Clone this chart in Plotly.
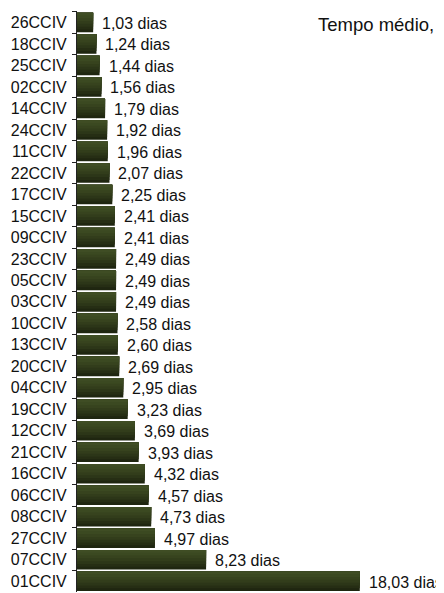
import plotly.graph_objects as go

categories = ["26CCIV", "18CCIV", "25CCIV", "02CCIV", "14CCIV", "24CCIV", "11CCIV",
              "22CCIV", "17CCIV", "15CCIV", "09CCIV", "23CCIV", "05CCIV", "03CCIV",
              "10CCIV", "13CCIV", "20CCIV", "04CCIV", "19CCIV", "12CCIV", "21CCIV",
              "16CCIV", "06CCIV", "08CCIV", "27CCIV", "07CCIV", "01CCIV"]
values = [1.03, 1.24, 1.44, 1.56, 1.79, 1.92, 1.96, 2.07, 2.25, 2.41, 2.41, 2.49,
          2.49, 2.49, 2.58, 2.60, 2.69, 2.95, 3.23, 3.69, 3.93, 4.32, 4.57, 4.73,
          4.97, 8.23, 18.03]
labels = [f"{v:.2f}".replace(".", ",") + " dias" for v in values]
title_text = "Tempo médio,"

FONT = "Liberation Sans, Arial, sans-serif"
W = 0.91
shades = ["#1f2610", "#262e14", "#2c3618", "#323d1b", "#37431e", "#3b4921", "#3f4d24"]
N = len(shades)

# page body has an 8px default margin; figure is sized to fill the rest
OFF = 8
FW, FH = 444 - OFF, 593 - OFF

fig = go.Figure()
for k, c in enumerate(shades):
    fig.add_trace(go.Bar(
        x=values, y=categories, orientation="h",
        width=W * (1 - k / N), offset=-W / 2,
        marker=dict(color=c, line=dict(width=0)),
        hoverinfo="skip", showlegend=False,
    ))

for v, c, t in zip(values, categories, labels):
    fig.add_annotation(x=v, y=c, text=t, showarrow=False, xanchor="left",
                       xshift=7, yshift=-1,
                       font=dict(family=FONT, size=16, color="#111111"))

fig.update_layout(
    width=FW, height=FH,
    margin=dict(l=77 - OFF, r=0, t=11 - OFF, b=1),
    barmode="overlay",
    plot_bgcolor="white", paper_bgcolor="white",
    title=dict(text=title_text, x=(318 - OFF) / FW, xanchor="left",
               y=1 - (25 - OFF) / FH, yanchor="middle",
               font=dict(family=FONT, size=18.5, color="#111111")),
    xaxis=dict(range=[0, 23.4], visible=False, fixedrange=True),
    yaxis=dict(autorange="reversed", type="category",
               tickson="boundaries", ticks="outside", ticklen=4,
               tickcolor="#222222", showline=True, linecolor="#222222",
               linewidth=1, showgrid=False, ticklabelstandoff=6,
               tickfont=dict(family=FONT, size=16, color="#111111")),
)

fig.write_html("out.html")
